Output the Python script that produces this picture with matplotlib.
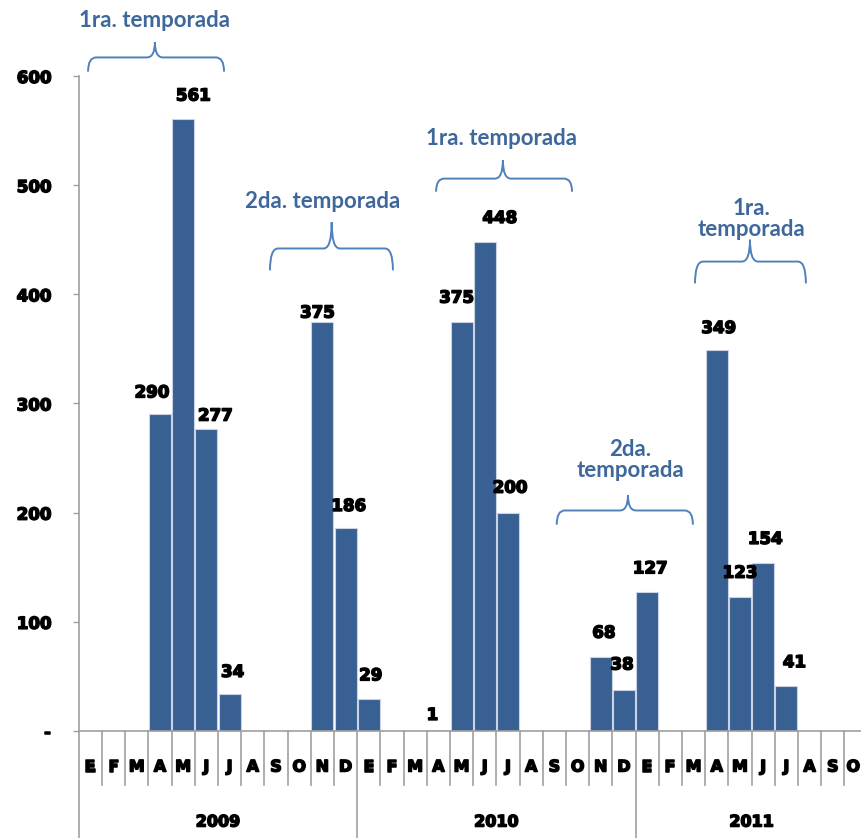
import matplotlib
matplotlib.use("Agg")
import matplotlib.pyplot as plt
import matplotlib.patheffects as pe
import numpy as np
from matplotlib.path import Path
from matplotlib.patches import PathPatch

# datos: casos por mes (E=enero ... D=diciembre)
meses = ['E', 'F', 'M', 'A', 'M', 'J', 'J', 'A', 'S', 'O', 'N', 'D'] * 2 + \
        ['E', 'F', 'M', 'A', 'M', 'J', 'J', 'A', 'S', 'O']
valores_2009 = [0, 0, 0, 290, 561, 277, 34, 0, 0, 0, 375, 186]
valores_2010 = [29, 0, 0, 1, 375, 448, 200, 0, 0, 0, 68, 38]
valores_2011 = [127, 0, 0, 349, 123, 154, 41, 0, 0, 0]
anios = ['2009', '2010', '2011']
valores = valores_2009 + valores_2010 + valores_2011

# desplazamiento de las etiquetas (pixeles) tal como estan en el original
despl_etiquetas = {3: (-8, 22), 4: (10, 23), 5: (9, 13), 6: (3, 22),
                   10: (-5, 9), 11: (3, 22), 12: (2, 24), 15: (-6, 15),
                   16: (-5, 24), 17: (15, 24), 18: (2, 25), 22: (3, 24),
                   23: (-2, 25), 24: (3, 24), 27: (2, 22), 28: (0, 24),
                   29: (2, 24), 30: (8, 24)}

# temporadas: texto, posicion del texto, llave (x0, x1, xpunta, y_extremo, y_linea, y_punta)
temporadas = [
    ("1ra. temporada", 2.78, 651, (-0.10, 5.76, 2.78, 604, 617, 631)),
    ("2da. temporada", 10.03, 485, (7.74, 13.04, 10.4, 422, 442, 466)),
    ("1ra. temporada", 17.74, 543, (14.9, 20.76, 17.78, 494, 506, 523)),
    ("2da.\ntemporada", 23.26, 248, (20.1, 25.97, 23.17, 189, 202, 216)),
    ("1ra.\ntemporada", 28.48, 469, (26.06, 30.84, 28.43, 410, 430, 450)),
]

color_barra = '#386092'
color_texto = '#3E679B'
color_llave = '#4F81BD'
gris = '#A0A0A0'
grueso = [pe.withStroke(linewidth=1.1, foreground='black')]


def dibujar_llave(ax, x0, x1, xm, y_ext, y_lin, y_tip, r=0.35):
    verts = [(x0, y_ext), (x0, y_lin), (x0 + r, y_lin),
             (xm - r, y_lin),
             (xm, y_lin), (xm, y_tip),
             (xm, y_lin), (xm + r, y_lin),
             (x1 - r, y_lin),
             (x1, y_lin), (x1, y_ext)]
    codes = [Path.MOVETO, Path.CURVE3, Path.CURVE3,
             Path.LINETO,
             Path.CURVE3, Path.CURVE3,
             Path.CURVE3, Path.CURVE3,
             Path.LINETO,
             Path.CURVE3, Path.CURVE3]
    ax.add_patch(PathPatch(Path(verts, codes), fill=False, edgecolor=color_llave,
                           lw=1.4, clip_on=False))


fig = plt.figure(figsize=(8.61, 8.38), dpi=100)
ax = fig.add_axes([78.8 / 861, 107 / 838, 788.8 / 861, 655 / 838])

x = np.arange(len(valores))
ax.bar(x, valores, width=0.94, color=color_barra, edgecolor='#C9D3E3', linewidth=0.8)

for i, v in enumerate(valores):
    if v == 0:
        continue
    dx, dy = despl_etiquetas.get(i, (0, 22))
    ax.annotate(str(v), (i, v), xytext=(dx, dy), textcoords='offset pixels',
                ha='center', va='center', fontsize=12, fontweight='bold',
                family='DejaVu Sans', color='black', path_effects=grueso)

ax.set_xlim(-0.5, len(valores) - 0.5)
ax.set_ylim(0, 600)
ax.set_yticks([0, 100, 200, 300, 400, 500, 600])
ax.set_yticklabels(['-', '100', '200', '300', '400', '500', '600'],
                   fontsize=12, fontweight='bold')
for t in ax.get_yticklabels():
    t.set_path_effects(grueso)
ax.tick_params(axis='y', direction='out', length=4.3, width=1, color=gris, pad=15.5)
ax.set_xticks([])

for s in ['top', 'right']:
    ax.spines[s].set_visible(False)
ax.spines['left'].set_color(gris)
ax.spines['bottom'].set_color(gris)
ax.spines['left'].set_linewidth(1.2)
ax.spines['bottom'].set_linewidth(1.2)

# separadores y etiquetas de meses y anios
trans = ax.get_xaxis_transform()
bordes = np.arange(len(valores) + 1) - 0.5
for k, b in enumerate(bordes):
    fondo = -0.17 if k in (0, 12, 24) else -0.0824
    ax.plot([b, b], [0, fondo], color=gris, lw=1.2, transform=trans, clip_on=False)
for i, m in enumerate(meses):
    xi = i - 0.12 if i == len(meses) - 1 else i
    ax.text(xi, -0.055, m, transform=trans, ha='center', va='center',
            fontsize=11.5, fontweight='bold', path_effects=grueso)
inicio = 0
for anio, largo in zip(anios, [len(valores_2009), len(valores_2010), len(valores_2011)]):
    ax.text(inicio + largo / 2 - 0.5, -0.139, anio, transform=trans, ha='center',
            va='center', fontsize=11.5, fontweight='bold', path_effects=grueso)
    inicio += largo

# llaves de las temporadas
for texto, tx, ty, llave in temporadas:
    dibujar_llave(ax, *llave)
    ax.text(tx, ty, texto, ha='center', va='center', fontsize=16,
            family='Lato', fontweight='bold', color=color_texto,
            linespacing=1.0, clip_on=False)

fig.savefig('out.png', dpi=100)
